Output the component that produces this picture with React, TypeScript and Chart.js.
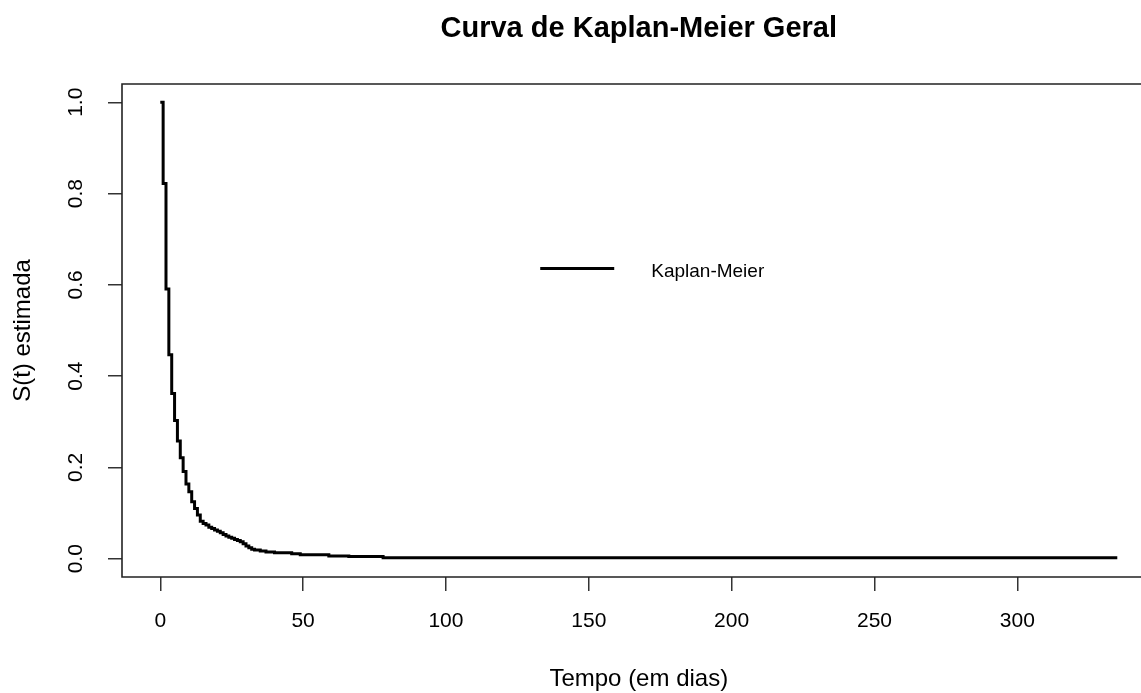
import React, { useEffect, useRef } from "react";
import { Chart, registerables } from "chart.js";

Chart.register(...registerables);

const titleText = "Curva de Kaplan-Meier Geral";
const xAxisTitle = "Tempo (em dias)";
const yAxisTitle = "S(t) estimada";
const seriesLabel = "Kaplan-Meier";

const times = [
  0, 1, 2, 3, 4, 5, 6, 7, 8, 9, 10, 11, 12, 13, 14, 15, 16, 17, 18, 19, 20,
  21, 22, 23, 24, 25, 26, 27, 28, 29, 30, 31, 32, 33, 35, 37, 40, 46, 49, 59,
  66, 78, 335,
];
const survival = [
  1.0, 0.822, 0.591, 0.447, 0.362, 0.303, 0.258, 0.221, 0.191, 0.164, 0.147,
  0.125, 0.11, 0.096, 0.082, 0.077, 0.074, 0.069, 0.066, 0.063, 0.06, 0.057,
  0.053, 0.05, 0.047, 0.045, 0.042, 0.04, 0.037, 0.033, 0.028, 0.024, 0.021,
  0.019, 0.017, 0.015, 0.013, 0.011, 0.009, 0.006, 0.005, 0.002, 0.002,
];

const xTicks = [0, 50, 100, 150, 200, 250, 300];
const yTicks = [0, 0.2, 0.4, 0.6, 0.8, 1.0];
// full plot region (R style, 4% padding) and the part visible in the frame
const xPlotRange = [-13.4, 348.4];
const xVisibleMax = 343.3;
const yRange = [-0.04, 1.04];
const legendAt = [133, 0.636];

const FONT = "'Liberation Sans', Arial, Helvetica, sans-serif";

export default function App() {
  const ref = useRef<HTMLCanvasElement | null>(null);

  useEffect(() => {
    const canvas = ref.current;
    if (!canvas) return;

    const framePlugin = {
      id: "frameTitleLegend",
      afterDraw(chart: any) {
        const { ctx, chartArea } = chart;
        const xs = chart.scales.x;
        const ys = chart.scales.y;
        const midX = xs.getPixelForValue((xPlotRange[0] + xPlotRange[1]) / 2);
        const rightEnd = chart.width;
        ctx.save();
        // plot box (its right side lies beyond the visible canvas)
        ctx.strokeStyle = "#222";
        ctx.lineWidth = 1.6;
        ctx.beginPath();
        ctx.moveTo(rightEnd, chartArea.top);
        ctx.lineTo(chartArea.left, chartArea.top);
        ctx.lineTo(chartArea.left, chartArea.bottom);
        ctx.lineTo(rightEnd, chartArea.bottom);
        ctx.stroke();
        // main title
        ctx.fillStyle = "#000";
        ctx.font = `bold 29px ${FONT}`;
        ctx.textAlign = "center";
        ctx.textBaseline = "alphabetic";
        ctx.fillText(titleText, midX, 37);
        // x axis title
        ctx.font = `24px ${FONT}`;
        ctx.textBaseline = "middle";
        ctx.fillText(xAxisTitle, midX, 679);
        // legend
        const lx = xs.getPixelForValue(legendAt[0]);
        const ly = ys.getPixelForValue(legendAt[1]);
        ctx.strokeStyle = "#000";
        ctx.lineWidth = 3;
        ctx.beginPath();
        ctx.moveTo(lx, ly);
        ctx.lineTo(lx + 74, ly);
        ctx.stroke();
        ctx.font = `19px ${FONT}`;
        ctx.textAlign = "left";
        ctx.textBaseline = "middle";
        ctx.fillText(chart.data.datasets[0].label, lx + 111, ly + 3);
        ctx.restore();
      },
    };

    const chart = new Chart(canvas, {
      type: "line",
      data: {
        datasets: [
          {
            label: seriesLabel,
            data: times.map((t, i) => ({ x: t, y: survival[i] })),
            borderColor: "#000",
            borderWidth: 3,
            pointRadius: 0,
            stepped: true,
            fill: false,
            tension: 0,
          },
        ],
      },
      options: {
        responsive: false,
        animation: false,
        devicePixelRatio: 1,
        layout: { padding: { top: 84, right: 0, left: 0, bottom: 0 } },
        plugins: {
          legend: { display: false },
          title: { display: false },
          tooltip: { enabled: false },
        },
        scales: {
          x: {
            type: "linear",
            min: xPlotRange[0],
            max: xVisibleMax,
            afterBuildTicks: (s: any) => {
              s.ticks = xTicks.map((v) => ({ value: v }));
            },
            afterFit: (s: any) => {
              s.height = 116;
            },
            border: { display: false },
            grid: {
              drawOnChartArea: false,
              drawTicks: true,
              tickLength: 14,
              color: "#333",
              lineWidth: 1.5,
            },
            ticks: {
              autoSkip: false,
              maxRotation: 0,
              minRotation: 0,
              padding: 18,
              color: "#000",
              font: { family: FONT, size: 21 },
              callback: (v: any) => String(v),
            },
            title: { display: false },
          },
          y: {
            type: "linear",
            min: yRange[0],
            max: yRange[1],
            afterBuildTicks: (s: any) => {
              s.ticks = yTicks.map((v) => ({ value: v }));
            },
            afterFit: (s: any) => {
              s.width = 122;
            },
            border: { display: false },
            grid: {
              drawOnChartArea: false,
              drawTicks: true,
              tickLength: 14,
              color: "#333",
              lineWidth: 1.5,
            },
            ticks: {
              autoSkip: false,
              minRotation: 90,
              maxRotation: 90,
              crossAlign: "center",
              padding: 17,
              color: "#000",
              font: { family: FONT, size: 21 },
              callback: (v: any) => Number(v).toFixed(1),
            },
            title: {
              display: true,
              text: yAxisTitle,
              color: "#000",
              font: { family: FONT, size: 24, lineHeight: 1 },
              padding: { top: 11, bottom: 0 },
            },
          },
        },
      },
      plugins: [framePlugin],
    } as any);

    return () => chart.destroy();
  }, []);

  return (
    <div
      style={{
        position: "fixed",
        left: 0,
        top: 0,
        width: 1141,
        height: 693,
        background: "#fff",
        overflow: "hidden",
      }}
    >
      <canvas ref={ref} width={1141} height={693} style={{ display: "block" }} />
    </div>
  );
}
